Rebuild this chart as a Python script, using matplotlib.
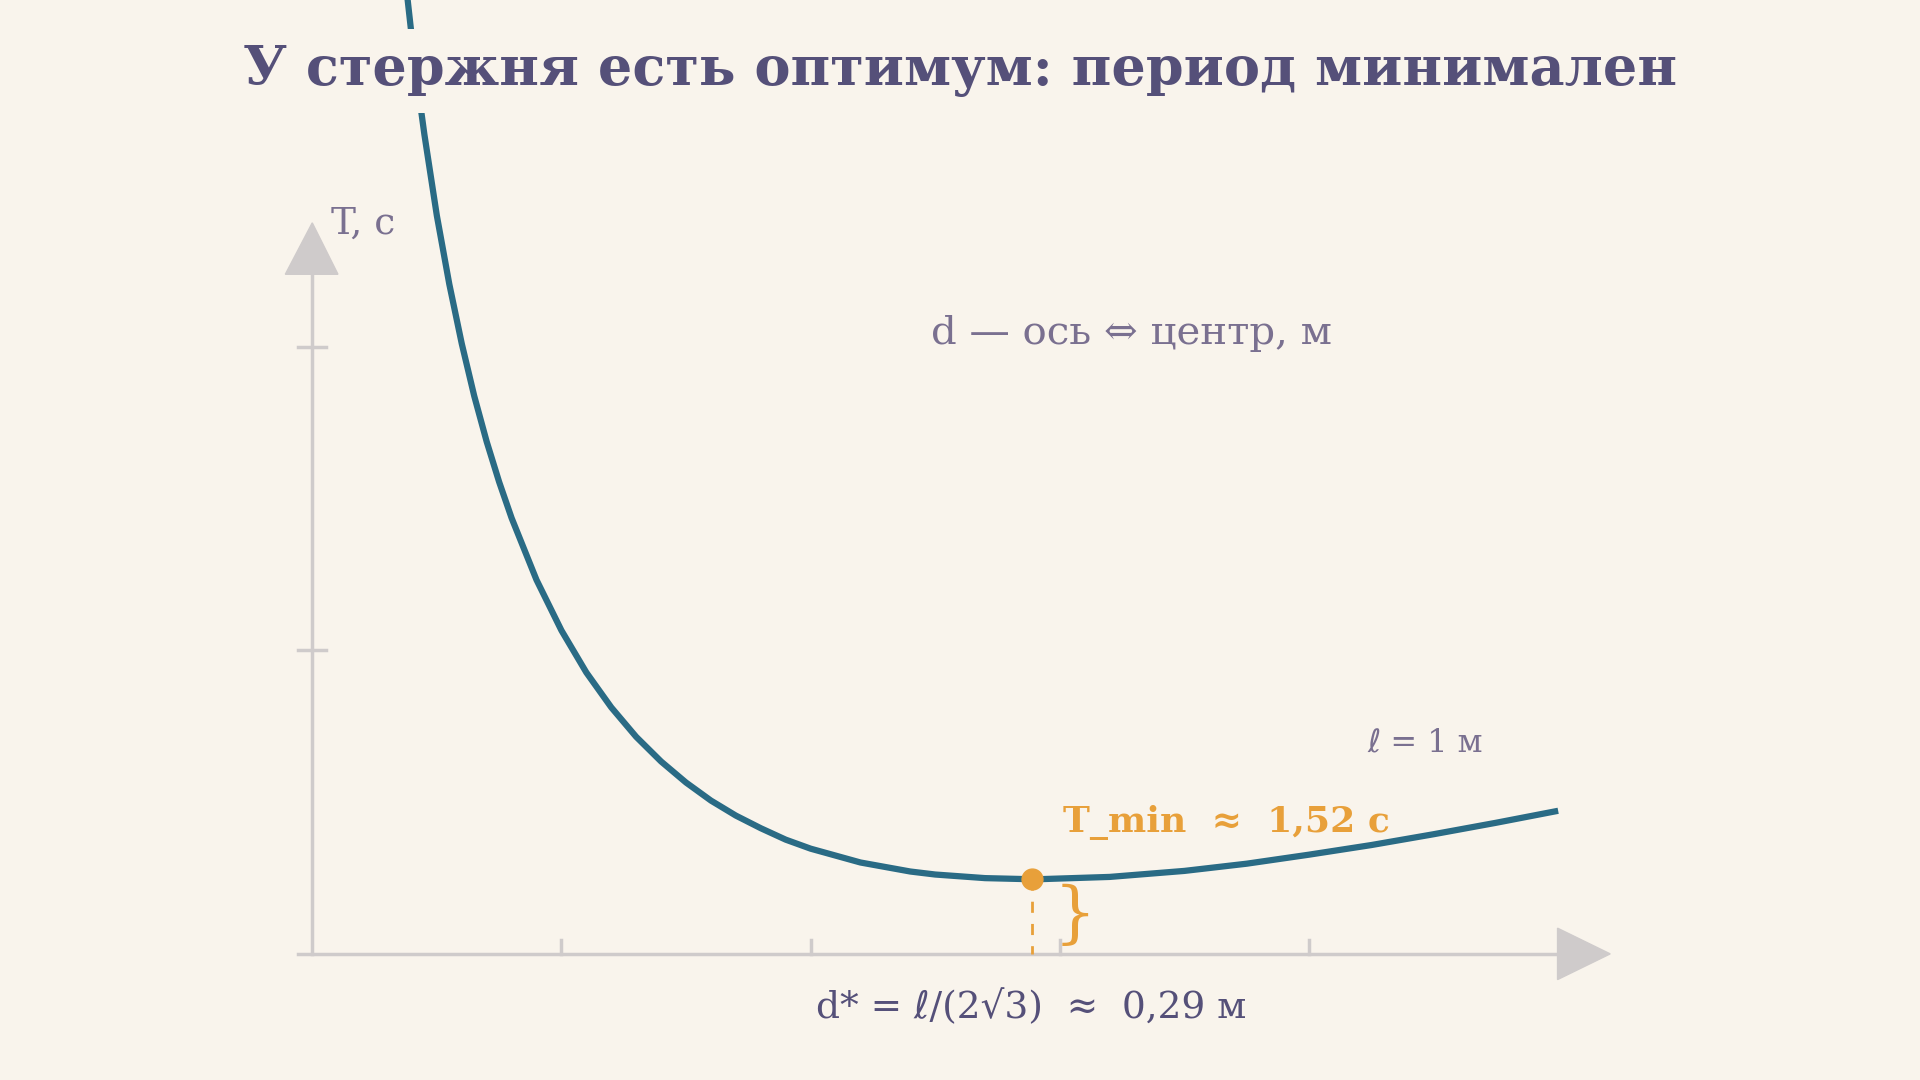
import matplotlib
matplotlib.use("Agg")
import matplotlib.pyplot as plt
from matplotlib.patches import Polygon

# data
d_vals = [0.035, 0.0375, 0.04, 0.0425, 0.045, 0.05, 0.055, 0.06, 0.065, 0.07, 0.075, 0.08, 0.09,
          0.1, 0.11, 0.12, 0.13, 0.14, 0.15, 0.16, 0.17, 0.18, 0.19, 0.2, 0.22, 0.24, 0.25, 0.27,
          0.29, 0.32, 0.35, 0.375, 0.4, 0.425, 0.45, 0.475, 0.5]
T_vals = [3.118, 3.016, 2.923, 2.839, 2.763, 2.628, 2.514, 2.415, 2.328, 2.252, 2.185, 2.125, 2.022,
          1.938, 1.868, 1.810, 1.761, 1.720, 1.685, 1.655, 1.630, 1.609, 1.590, 1.575, 1.552, 1.537, 1.532, 1.526,
          1.524, 1.528, 1.538, 1.550, 1.565, 1.581, 1.599, 1.618, 1.638]
d_opt = 0.2887
T_min = 1.524
x_ticks = [0.1, 0.2, 0.3, 0.4]
y_ticks = [1.905, 2.41]

BG = "#f9f4ec"; CURVE = "#2a6b85"; ORANGE = "#e8a03a"; AX = "#cfcbcb"
TITLE = "#555079"; GREY = "#7a7090"

def X(px): return (px - 255) / 2035.0
def Y(py): return 1.40 + (779 - py) / 491.0

fig = plt.figure(figsize=(19.2, 10.8), dpi=100, facecolor=BG)
ax = fig.add_axes([0, 0, 1, 1])
ax.set_facecolor(BG)
ax.set_xlim(X(0), X(1568)); ax.set_ylim(Y(882), Y(0))
ax.axis("off")

ax.plot([X(255), X(255)], [Y(779), Y(215)], color=AX, lw=2.5, zorder=1)
ax.plot([X(243), X(1280)], [Y(779), Y(779)], color=AX, lw=2.5, zorder=1)
ax.add_patch(Polygon([(X(233), Y(224)), (X(276), Y(224)), (X(255), Y(182))], closed=True, color=AX, zorder=1))
ax.add_patch(Polygon([(X(1272), Y(758)), (X(1272), Y(800)), (X(1315), Y(779))], closed=True, color=AX, zorder=1))
for t in x_ticks:
    ax.plot([t, t], [Y(779), Y(768)], color=AX, lw=2.5, zorder=1)
for t in y_ticks:
    ax.plot([X(243), X(266)], [t, t], color=AX, lw=2.5, zorder=1)

ax.plot(d_vals, T_vals, color=CURVE, lw=4.5, solid_joinstyle="round", solid_capstyle="butt", zorder=3)

ax.plot([d_opt, d_opt], [T_min, Y(779)], color=ORANGE, lw=2, ls=(0, (4, 4)), zorder=2)
ax.plot([d_opt], [T_min], "o", color=ORANGE, ms=15, zorder=4)

serif = ["DejaVu Serif", "DejaVu Sans", "Noto Sans"]
ax.text(X(784), Y(58), "У стержня есть оптимум: период минимален", ha="center", va="center",
        fontsize=39, fontweight="bold", color=TITLE, family=serif, zorder=5,
        bbox=dict(boxstyle="square,pad=0.3", fc=BG, ec="none"))
ax.text(X(270), Y(183), "T, с", ha="left", va="center", fontsize=27, color=GREY, family=serif)
ax.text(X(760), Y(272), "d — ось ⇔ центр, м", ha="left", va="center", fontsize=29, color=GREY, family=serif)
ax.text(X(1117), Y(607), "ℓ = 1 м", ha="left", va="center", fontsize=23, color=GREY, family=serif)
ax.text(X(868), Y(672), "T_min  ≈  1,52 с", ha="left", va="center", fontsize=26, fontweight="bold",
        color=ORANGE, family=serif, zorder=5)
ax.text(X(842), Y(823), "d* = ℓ/(2√3)  ≈  0,29 м", ha="center", va="center", fontsize=27, color=TITLE, family=serif)
ax.text(X(878), Y(748), "}", ha="center", va="center", fontsize=48, color=ORANGE, family=serif)

fig.savefig("out.png", dpi=100, facecolor=BG)
